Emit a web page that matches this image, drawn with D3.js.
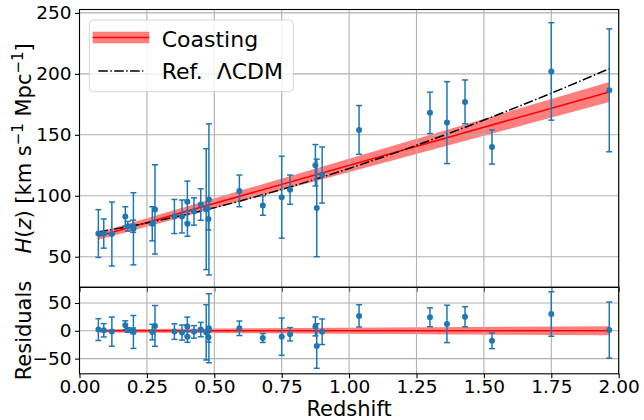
<!DOCTYPE html>
<html>
<head>
<meta charset="utf-8">
<script src="https://cdn.jsdelivr.net/npm/d3@7"></script>
<style>
    body { margin: 0; background: #fff; }
    text { font-family: "DejaVu Sans", sans-serif; fill: #000; }
</style>
</head>
<body>
<svg id="chart" width="644" height="420"></svg>
<script>

var redshift = [0.07, 0.09, 0.12, 0.17, 0.179, 0.199, 0.2, 0.27, 0.28, 0.352, 0.3802, 0.4, 0.4004, 0.4247,
    0.4497, 0.47, 0.4783, 0.48, 0.593, 0.68, 0.75, 0.781, 0.875, 0.88, 0.9, 1.037, 1.3, 1.363, 1.43, 1.53, 1.75, 1.965];
var hubble = [69, 69, 68.6, 83, 75, 75, 72.9, 77, 88.8, 83, 83, 95, 77, 87.1,
    92.8, 89, 80.9, 97, 104, 92, 98.8, 105, 125, 90, 117, 154, 168, 160, 177, 140, 202, 186.5];
var hubbleErr = [19.6, 12, 26.2, 8, 4, 5, 29.6, 14, 36.6, 14, 13.5, 17, 10.2, 11.2,
    12.9, 49.6, 9, 62, 13, 8, 33.6, 12, 17, 40, 23, 20, 17, 33.6, 18, 14, 40, 50.4];
// data minus coasting fit
var residual = [2.2, 0.9, -1.4, 9.9, 1.4, 0.1, -2.1, -2.3, 8.8, -1.4, -3.2, 7.6, -10.5, -1.9,
    2.2, -2.8, -11.4, 4.6, 4.5, -12.9, -10.5, -6.2, 7.9, -27.4, -1.7, 26.8, 24.3, 12.4, 25.2, -18.0, 30.2, 1.3];

// coasting fit line and its band
var coastZ = [0.07, 1.965];
var coastH = [66.83, 185.19];
var coastErr = [2.95, 8.18];

// reference LCDM curve
var lcdmZ = [0.07, 0.2, 0.4, 0.6, 0.8, 1.0, 1.2, 1.4, 1.6, 1.8, 1.965];
var lcdmH = [70.41, 75.51, 84.88, 95.94, 108.51, 122.40, 137.48, 153.62, 170.74, 188.75, 204.24];

var xTicks = [0, 0.25, 0.5, 0.75, 1, 1.25, 1.5, 1.75, 2];
var hTicks = [50, 100, 150, 200, 250];
var residTicks = [-50, 0, 50];
var legendLabels = ["Coasting", "Ref.\u00a0\u00a0\u039bCDM"];

var svg = d3.select("#chart");

var dims = {
    "left": 79.5, "right": 618.7,
    "topY0": 9.5, "topY1": 287.3,
    "resY0": 287.3, "resY1": 373.8
};

var x = d3.scaleLinear().domain([0, 2]).range([dims.left, dims.right]);
var yTop = d3.scaleLinear().domain([24.9, 252.8]).range([dims.topY1, dims.topY0]);
var yRes = d3.scaleLinear().domain([-77.3, 78.2]).range([dims.resY1, dims.resY0]);

var gridColor = "#b0b0b0";
var blue = "#1f77b4";

function drawPanel(yScale, yTicks, y0, y1, showXLabels, bandFn, lineFn) {

    var g = svg.append("g");

    // band first, grid over it (matplotlib default order)
    g.append("path")
        .attr("d", bandFn())
        .attr("fill", "#ff0000")
        .attr("fill-opacity", 0.5)
        .attr("stroke", "none");

    var grid = g.append("g");
    grid.selectAll(".gx")
        .data(xTicks)
        .enter()
        .append("line")
        .attr("x1", function (d) { return x(d); })
        .attr("x2", function (d) { return x(d); })
        .attr("y1", y0)
        .attr("y2", y1)
        .attr("stroke", gridColor)
        .attr("stroke-width", 1.1);
    grid.selectAll(".gy")
        .data(yTicks)
        .enter()
        .append("line")
        .attr("x1", dims.left)
        .attr("x2", dims.right)
        .attr("y1", function (d) { return yScale(d); })
        .attr("y2", function (d) { return yScale(d); })
        .attr("stroke", gridColor)
        .attr("stroke-width", 1.1);

    lineFn(g);

    // axes
    var yAxis = d3.axisLeft(yScale)
        .tickValues(yTicks)
        .tickSize(4.5)
        .tickPadding(3.5)
        .tickFormat(d3.format("d"));
    var ya = g.append("g")
        .attr("transform", "translate(" + dims.left + ",0)")
        .call(yAxis);
    ya.select(".domain").remove();
    ya.selectAll("text")
        .style("font-family", "DejaVu Sans")
        .style("font-size", "18.5px")
        .attr("fill", "#000");
    ya.selectAll("line").attr("stroke", "#000").attr("stroke-width", 1.1);

    var xAxis = d3.axisBottom(x)
        .tickValues(xTicks)
        .tickSize(4.5)
        .tickPadding(2)
        .tickFormat(showXLabels ? d3.format(".2f") : "");
    var xa = g.append("g")
        .attr("transform", "translate(0," + y1 + ")")
        .call(xAxis);
    xa.select(".domain").remove();
    xa.selectAll("text")
        .style("font-family", "DejaVu Sans")
        .style("font-size", "18.5px")
        .attr("fill", "#000");
    xa.selectAll("line").attr("stroke", "#000").attr("stroke-width", 1.1);

    // frame
    g.append("rect")
        .attr("x", dims.left)
        .attr("y", y0)
        .attr("width", dims.right - dims.left)
        .attr("height", y1 - y0)
        .attr("fill", "none")
        .attr("stroke", "#000")
        .attr("stroke-width", 1.1);

    return g;
}

function drawErrorbars(g, yScale, values) {
    var pts = redshift.map(function (z, i) {
        return {'z': z, 'v': values[i], 'e': hubbleErr[i]};
    });
    var eb = g.append("g").selectAll("g")
        .data(pts)
        .enter()
        .append("g");
    eb.append("line")
        .attr("x1", function (d) { return x(d.z); })
        .attr("x2", function (d) { return x(d.z); })
        .attr("y1", function (d) { return yScale(d.v - d.e); })
        .attr("y2", function (d) { return yScale(d.v + d.e); })
        .attr("stroke", blue)
        .attr("stroke-width", 1.5);
    [-1, 1].forEach(function (s) {
        eb.append("line")
            .attr("x1", function (d) { return x(d.z) - 3; })
            .attr("x2", function (d) { return x(d.z) + 3; })
            .attr("y1", function (d) { return yScale(d.v + s * d.e); })
            .attr("y2", function (d) { return yScale(d.v + s * d.e); })
            .attr("stroke", blue)
            .attr("stroke-width", 1.5);
    });
    eb.append("circle")
        .attr("cx", function (d) { return x(d.z); })
        .attr("cy", function (d) { return yScale(d.v); })
        .attr("r", 3)
        .attr("fill", blue);
}

var dashDot = "9.6,2.4,1.5,2.4";

// ---- top panel ----
var coastPts = coastZ.map(function (z, i) {
    return {'z': z, 'h': coastH[i], 'e': coastErr[i]};
});

var top = drawPanel(yTop, hTicks, dims.topY0, dims.topY1, false,
    function () {
        return d3.area()
            .x(function (d) { return x(d.z); })
            .y0(function (d) { return yTop(d.h - d.e); })
            .y1(function (d) { return yTop(d.h + d.e); })(coastPts);
    },
    function (g) {
        g.append("path")
            .attr("d", d3.line()
                .x(function (d) { return x(d.z); })
                .y(function (d) { return yTop(d.h); })(coastPts))
            .attr("fill", "none")
            .attr("stroke", "#ff0000")
            .attr("stroke-width", 1.6);
        var lcdmPts = lcdmZ.map(function (z, i) { return {'z': z, 'h': lcdmH[i]}; });
        g.append("path")
            .attr("d", d3.line()
                .curve(d3.curveMonotoneX)
                .x(function (d) { return x(d.z); })
                .y(function (d) { return yTop(d.h); })(lcdmPts))
            .attr("fill", "none")
            .attr("stroke", "#000")
            .attr("stroke-width", 1.5)
            .attr("stroke-dasharray", dashDot);
        drawErrorbars(g, yTop, hubble);
    });

// ---- residual panel ----
var res = drawPanel(yRes, residTicks, dims.resY0, dims.resY1, true,
    function () {
        return d3.area()
            .x(function (d) { return x(d.z); })
            .y0(function (d) { return yRes(-d.e); })
            .y1(function (d) { return yRes(d.e); })(coastPts);
    },
    function (g) {
        g.append("path")
            .attr("d", d3.line()
                .x(function (d) { return x(d.z); })
                .y(function () { return yRes(0); })(coastPts))
            .attr("fill", "none")
            .attr("stroke", "#ff0000")
            .attr("stroke-width", 1.6);
        drawErrorbars(g, yRes, residual);
    });

// ---- labels ----
var ylab = svg.append("text")
    .attr("transform", "translate(31," + ((dims.topY0 + dims.topY1) / 2) + ") rotate(-90)")
    .attr("text-anchor", "middle")
    .style("font-size", "21px");
ylab.append("tspan").style("font-style", "italic").text("H");
ylab.append("tspan").text("(");
ylab.append("tspan").style("font-style", "italic").text("z");
ylab.append("tspan").text(") [km s");
ylab.append("tspan").attr("dy", -8).style("font-size", "15px").text("\u22121");
ylab.append("tspan").attr("dy", 8).text(" Mpc");
ylab.append("tspan").attr("dy", -8).style("font-size", "15px").text("\u22121");
ylab.append("tspan").attr("dy", 8).text("]");

svg.append("text")
    .attr("transform", "translate(31," + ((dims.resY0 + dims.resY1) / 2) + ") rotate(-90)")
    .attr("text-anchor", "middle")
    .style("font-size", "21px")
    .text("Residuals");

svg.append("text")
    .attr("x", (dims.left + dims.right) / 2)
    .attr("y", 416)
    .attr("text-anchor", "middle")
    .style("font-size", "21px")
    .text("Redshift");

// ---- legend ----
var legend = svg.append("g");
legend.append("rect")
    .attr("x", 89.3)
    .attr("y", 20)
    .attr("width", 204)
    .attr("height", 71.7)
    .attr("rx", 4)
    .attr("fill", "#fff")
    .attr("fill-opacity", 0.8)
    .attr("stroke", "#cccccc")
    .attr("stroke-opacity", 0.8);
legend.append("rect")
    .attr("x", 92.7)
    .attr("y", 31.7)
    .attr("width", 56.6)
    .attr("height", 11.6)
    .attr("fill", "#ff0000")
    .attr("fill-opacity", 0.5);
legend.append("line")
    .attr("x1", 92.7).attr("x2", 149.3)
    .attr("y1", 37.5).attr("y2", 37.5)
    .attr("stroke", "#ff0000")
    .attr("stroke-width", 1.6);
legend.append("line")
    .attr("x1", 98.3).attr("x2", 143.3)
    .attr("y1", 71).attr("y2", 71)
    .attr("stroke", "#000")
    .attr("stroke-width", 1.5)
    .attr("stroke-dasharray", dashDot);
legend.selectAll(".lt")
    .data(legendLabels)
    .enter()
    .append("text")
    .attr("x", 161.7)
    .attr("y", function (d, i) { return 46.7 + i * 32.3; })
    .style("font-size", "22px")
    .text(function (d) { return d; });

</script>
</body>
</html>
